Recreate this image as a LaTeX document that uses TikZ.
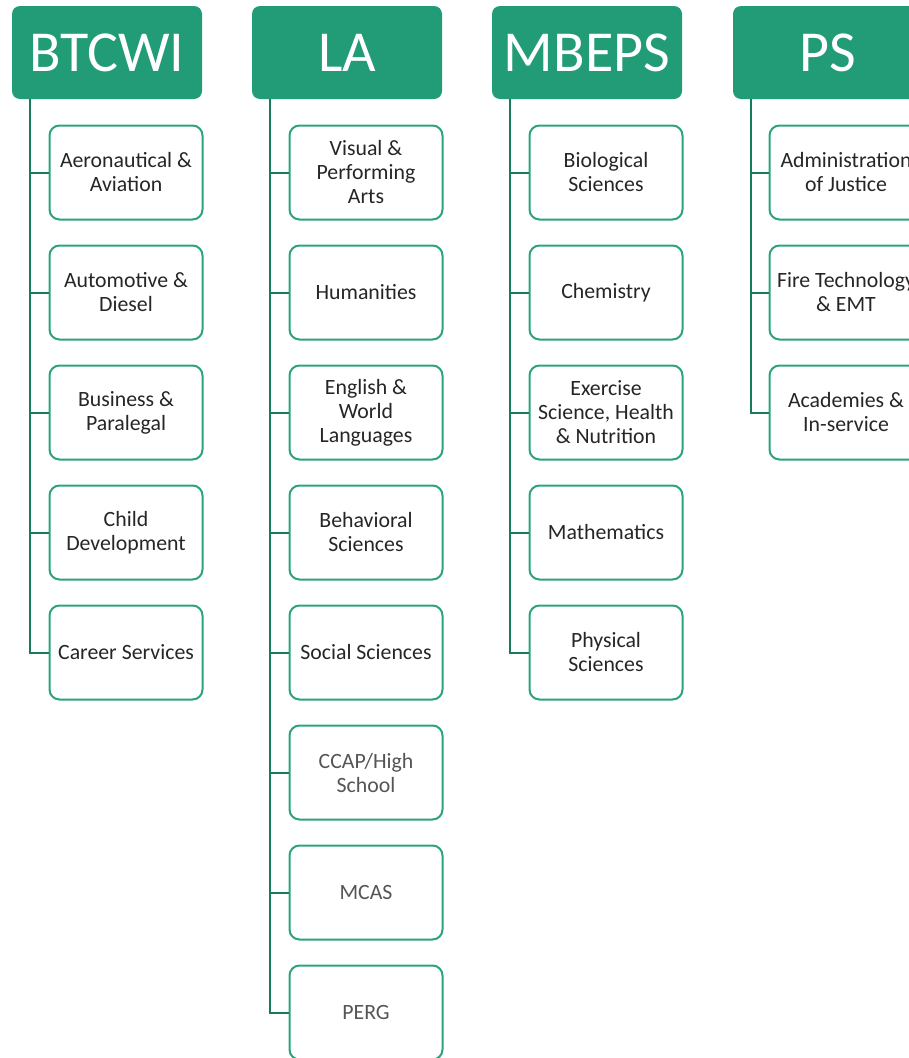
\documentclass[tikz,border=0pt]{standalone}
\usepackage{fontspec}
\setmainfont{Carlito}
\usepackage{tikz}
\usetikzlibrary{positioning}
\definecolor{deptgreen}{RGB}{34,155,119}
\definecolor{boxgreen}{RGB}{44,163,125}
\definecolor{linegreen}{RGB}{24,124,92}
\definecolor{progtext}{RGB}{38,38,38}
\definecolor{softtext}{RGB}{85,85,85}

\tikzset{
  dept/.style={fill=deptgreen, rounded corners=8pt, minimum width=190pt,
    minimum height=93pt, inner sep=0pt, text=white,
    font=\fontsize{58}{64}\selectfont},
  prog/.style={draw=boxgreen, line width=2pt, rounded corners=10pt, fill=white,
    minimum width=153pt, minimum height=94pt, inner sep=0pt, align=center,
    text=progtext, font=\fontsize{21.8}{24}\selectfont},
  progsoft/.style={prog, text=softtext},
  link/.style={draw=linegreen, line width=2pt}
}

\begin{document}
\begin{tikzpicture}[x=1pt,y=-1pt]
				\useasboundingbox (0,0) rectangle (909,1058);
				\clip (0,0) rectangle (909,1058);

					% BTCWI
					\node [dept] (btcwi) at (107,52.5) {BTCWI};
					\foreach \t [count=\i] in {Aeronautical \&\\Aviation, Automotive \&\\Diesel,
							Business \&\\Paralegal, Child\\Development, Career Services}{%
							\node [prog] (btcwi-\i) at (126,52.5+120*\i) {\t};
							\draw [link] (btcwi.south west) ++(18,0) |- (btcwi-\i.west);
						}

					% LA
					\node [dept] (la) at (347,52.5) {LA};
					\foreach \t [count=\i] in {Visual \&\\Performing\\Arts, Humanities,
							English \&\\World\\Languages, Behavioral\\Sciences, Social Sciences}{%
							\node [prog] (la-\i) at (366,52.5+120*\i) {\t};
							\draw [link] (la.south west) ++(18,0) |- (la-\i.west);
						}
					\foreach \t [count=\i from 6] in {CCAP/High\\School, MCAS, PERG}{%
							\node [progsoft] (la-\i) at (366,52.5+120*\i) {\t};
							\draw [link] (la.south west) ++(18,0) |- (la-\i.west);
						}

					% MBEPS
					\node [dept] (mbeps) at (587,52.5) {MBEPS};
					\foreach \t [count=\i] in {Biological\\Sciences, Chemistry,
							{Exercise\\Science, Health\\\& Nutrition}, Mathematics, Physical\\Sciences}{%
							\node [prog] (mbeps-\i) at (606,52.5+120*\i) {\t};
							\draw [link] (mbeps.south west) ++(18,0) |- (mbeps-\i.west);
						}

					% PS
					\node [dept] (ps) at (828,52.5) {PS};
					\foreach \t [count=\i] in {Administration\\of Justice, Fire Technology\\\& EMT,
							Academies \&\\In-service}{%
							\node [prog] (ps-\i) at (846,52.5+120*\i) {\t};
							\draw [link] (ps.south west) ++(18,0) |- (ps-\i.west);
						}
			\end{tikzpicture}
\end{document}
